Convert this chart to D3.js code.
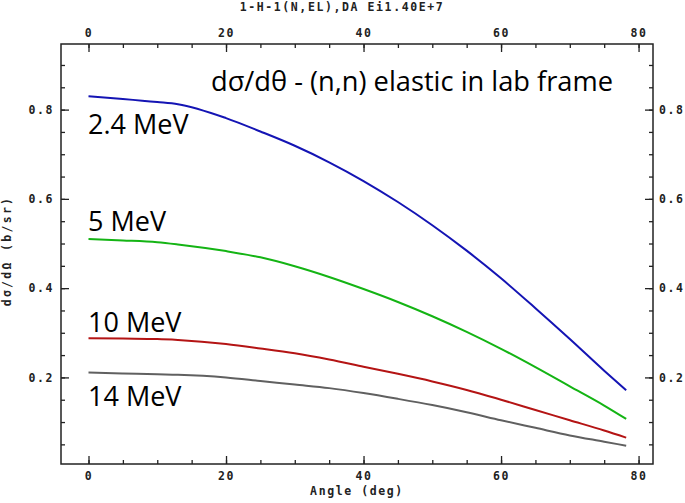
<!DOCTYPE html>
<html><head><meta charset="utf-8">
<script src="https://cdn.jsdelivr.net/npm/d3@7"></script>
<style>
body{margin:0;background:#fff;}
.ax text{font-family:"DejaVu Sans Mono",monospace;font-weight:bold;font-size:11.5px;letter-spacing:1.6px;fill:#222;}
.big{font-family:"Open Sans",sans-serif;font-size:27px;fill:#000;}
</style></head>
<body><svg id="c" width="685" height="503"></svg>
<script>
const angles = [0, 5, 10, 13, 20, 25, 30, 35, 40, 45, 50, 55, 60, 65, 70, 75, 78.2];
const e2_4 = [0.830, 0.824, 0.817, 0.812, 0.781, 0.751, 0.719, 0.682, 0.640, 0.593, 0.541, 0.484, 0.422, 0.355, 0.286, 0.215, 0.171];
const e5 = [0.510, 0.507, 0.503, 0.498, 0.483, 0.469, 0.449, 0.425, 0.398, 0.369, 0.337, 0.302, 0.264, 0.223, 0.180, 0.137, 0.107];
const e10 = [0.288, 0.287, 0.286, 0.284, 0.275, 0.265, 0.254, 0.240, 0.224, 0.208, 0.191, 0.172, 0.150, 0.127, 0.104, 0.081, 0.065];
const e14 = [0.211, 0.209, 0.207, 0.206, 0.200, 0.192, 0.184, 0.176, 0.165, 0.152, 0.138, 0.122, 0.104, 0.087, 0.070, 0.056, 0.047];
const seriesNames = ["2.4 MeV", "5 MeV", "10 MeV", "14 MeV"];
const seriesColors = ["#1414b4", "#14b414", "#b41414", "#606060"];
const xMajorTicks = [0, 20, 40, 60, 80];
const yMajorTicks = [0.2, 0.4, 0.6, 0.8];
const chartTitle = "1-H-1(N,EL),DA Ei1.40E+7";
const xLabel = "Angle (deg)";
const yLabel = "dσ/dΩ (b/sr)";
const noteText = "dσ/dθ - (n,n) elastic in lab frame";

const svg = d3.select("#c");
const L = 61, R = 653, T = 44, B = 464;
const x = d3.scaleLinear().domain([-4, 82.1]).range([L, R]);
const y = d3.scaleLinear().domain([0.006, 0.947]).range([B, T]);

const xMinor = d3.range(0, 81, 5);
const yMinor = d3.range(1, 19).map(i => +(i * 0.05).toFixed(2));

function styleAxis(g){ g.select(".domain").remove(); g.selectAll(".tick line").attr("stroke","#222").attr("stroke-width",1.3); g.attr("class","ax"); }

// minor ticks
svg.append("g").attr("transform",`translate(0,${B})`).call(d3.axisBottom(x).tickValues(xMinor).tickSize(-4).tickFormat("")).call(styleAxis);
svg.append("g").attr("transform",`translate(0,${T})`).call(d3.axisTop(x).tickValues(xMinor).tickSize(-4).tickFormat("")).call(styleAxis);
svg.append("g").attr("transform",`translate(${L},0)`).call(d3.axisLeft(y).tickValues(yMinor).tickSize(-4).tickFormat("")).call(styleAxis);
svg.append("g").attr("transform",`translate(${R},0)`).call(d3.axisRight(y).tickValues(yMinor).tickSize(-4).tickFormat("")).call(styleAxis);
// major ticks
svg.append("g").attr("transform",`translate(0,${B})`).call(d3.axisBottom(x).tickValues(xMajorTicks).tickSize(-8).tickPadding(8).tickFormat(d3.format("d"))).call(styleAxis);
svg.append("g").attr("transform",`translate(0,${T})`).call(d3.axisTop(x).tickValues(xMajorTicks).tickSize(-8).tickPadding(7).tickFormat(d3.format("d"))).call(styleAxis);
svg.append("g").attr("transform",`translate(${L},0)`).call(d3.axisLeft(y).tickValues(yMajorTicks).tickSize(-8).tickPadding(7).tickFormat(d3.format(".1f"))).call(styleAxis);
svg.append("g").attr("transform",`translate(${R},0)`).call(d3.axisRight(y).tickValues(yMajorTicks).tickSize(-8).tickPadding(6).tickFormat(d3.format(".1f"))).call(styleAxis);

// frame
svg.append("rect").attr("x",L).attr("y",T).attr("width",R-L).attr("height",B-T)
  .attr("fill","none").attr("stroke","#222").attr("stroke-width",1.5);

// curves
const data = [e2_4, e5, e10, e14];
const line = d3.line().x((d,i)=>x(angles[i])).y(d=>y(d)).curve(d3.curveMonotoneX);
data.forEach((s,k)=>{
  svg.append("path").datum(s).attr("d",line).attr("fill","none")
    .attr("stroke",seriesColors[k]).attr("stroke-width",2);
});

// titles
const tg = svg.append("g").attr("class","ax");
tg.append("text").attr("x",342).attr("y",11).attr("text-anchor","middle").text(chartTitle);
tg.append("text").attr("x",357).attr("y",495).attr("text-anchor","middle").text(xLabel);
tg.append("text").attr("transform","translate(11,251) rotate(-90)").attr("text-anchor","middle")
  .style("letter-spacing","2.3px").text(yLabel);

// annotations
svg.append("text").attr("class","big").attr("x",211).attr("y",91)
  .attr("textLength",402).attr("lengthAdjust","spacingAndGlyphs").text(noteText);
const labelY = [134, 231, 332, 406];
seriesNames.forEach((n,k)=>{
  svg.append("text").attr("class","big").attr("x",88).attr("y",labelY[k]).text(n);
});
</script></body></html>
